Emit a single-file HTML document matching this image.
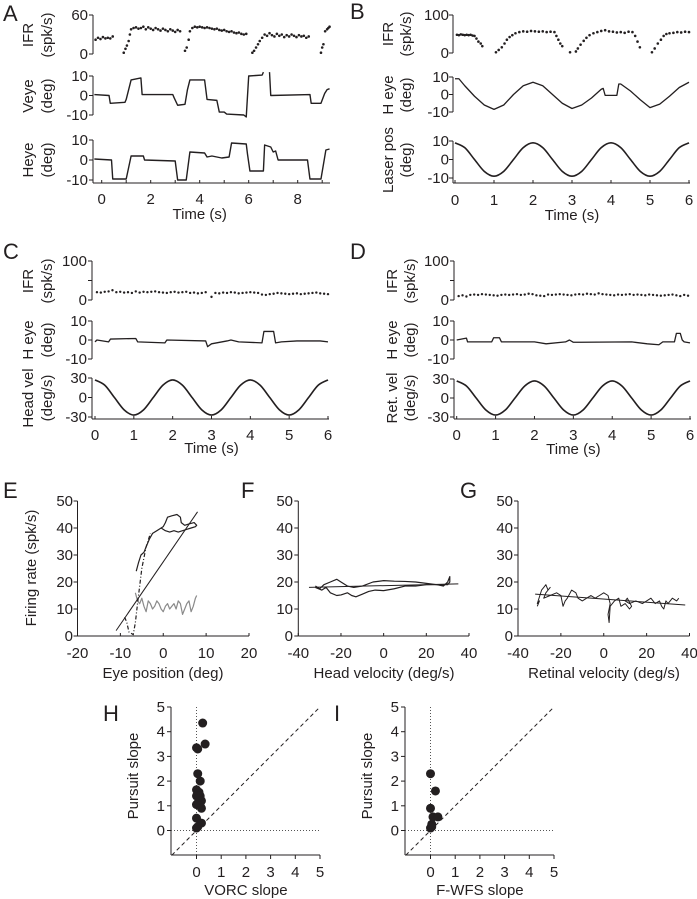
<!DOCTYPE html>
<html><head><meta charset="utf-8">
<style>
html,body{margin:0;padding:0;background:#fff;}
svg{display:block;font-family:"Liberation Sans",Arial,sans-serif;}
text{fill:#231f20;}
</style></head>
<body>
<svg id="fig" width="697" height="899" viewBox="0 0 697 899" xmlns="http://www.w3.org/2000/svg"></svg>
<script>
// ---------- DATA ----------
// Panel A
const ifrA_t = [-0.25,-0.15,-0.05,0.05,0.15,0.25,0.35,0.45, 0.9,0.97,1.03,1.1,1.15, 1.2,1.3,1.4,1.5,1.6,1.7,1.8,1.9,2.0,2.1,2.2,2.3,2.4,2.5,2.6,2.7,2.8,2.9,3.0,3.1,3.2, 3.4,3.47,3.55,3.6, 3.7,3.8,3.9,4.0,4.1,4.2,4.3,4.4,4.5,4.6,4.7,4.8,4.9,5.0,5.1,5.2,5.3,5.4,5.5,5.6,5.7,5.8,5.9, 6.15,6.22,6.3,6.38,6.45,6.55, 6.65,6.75,6.85,6.95,7.05,7.15,7.25,7.35,7.45,7.55,7.65,7.75,7.85,7.95,8.05,8.15,8.25,8.35,8.45, 8.95,9.0,9.05,9.12,9.2,9.25,9.3];
const ifrA_v = [22,25,23,26,24,25,24,27, 2,8,13,20,30, 38,40,41,39,40,42,38,41,39,37,40,38,36,39,37,35,38,36,34,37,35, 5,10,22,35, 40,42,41,42,41,40,41,40,39,38,39,37,36,37,35,34,35,33,32,33,31,30,31, 2,5,10,15,20,25, 30,28,32,29,27,31,28,30,26,29,27,30,28,26,29,27,28,25,27, 2,10,15,35,38,40,42];
const veyeA_t = [-0.3,0.3,0.35,0.95,1.0,1.2,1.6,1.65,2.9,2.95,3.1,3.4,3.5,3.6,4.2,4.3,4.7,4.8,5.0,5.1,5.8,5.9,6.0,6.55,6.6];
const veyeA_v = [0.5,0,-4,-3.5,-2,8,9,0.5,0.5,-1,-5,-4.5,3,8,8,-2,-2.5,-8.5,-8.5,-9.5,-10,-11,10,10.5,12];
const veyeA2_t = [6.85,6.9,8.5,8.55,8.95,9.1,9.2,9.3];
const veyeA2_v = [12,0,0.5,-4,-4,1,3,3.5];
const heyeA_t = [-0.3,0.4,0.45,1.0,1.2,1.7,1.75,3.0,3.1,3.45,3.6,4.2,4.3,4.5,4.9,5.2,5.3,5.9,5.95,6.05,6.6,6.65,6.9,7.0,7.1,7.2,8.4,8.5,8.95,9.15,9.3];
const heyeA_v = [0.5,0,-9.5,-9.5,2,2,0,-0.5,-10,-10,4,3.5,1.5,2,1,1.5,8.5,8,3,-5.5,-5.5,7.5,6.5,4,4.5,0,0,-9.5,-9.5,5,5.5];
// Panel B
const ifrB_t = [0.05,0.1,0.15,0.2,0.25,0.3,0.35,0.4,0.45,0.5, 0.55,0.6,0.66,0.7, 1.05,1.12,1.2,1.27,1.33,1.4,1.47, 1.55,1.65,1.75,1.85,1.95,2.05,2.15,2.25,2.35,2.45,2.55, 2.6,2.65,2.7,2.75, 2.95,3.1,3.15,3.22,3.3,3.37,3.45, 3.55,3.65,3.75,3.85,3.95,4.05,4.15,4.25,4.35,4.45,4.55, 4.62,4.68,4.74, 5.05,5.12,5.2,5.28,5.35,5.42, 5.5,5.6,5.7,5.8,5.9,6.0];
const ifrB_v = [48,47,49,48,47,48,47,48,46,45, 38,30,25,18, 2,8,15,25,35,42,47, 52,55,57,56,58,57,56,57,55,56,55, 45,35,25,18, 2,4,12,22,32,40,47, 52,55,58,60,57,56,54,55,53,56,55, 45,30,15, 2,12,25,35,45,50, 52,53,55,54,56,55];
const heyeB_t = [0,0.1,0.25,0.5,0.75,1.0,1.25,1.5,1.75,2.0,2.25,2.5,2.75,3.0,3.25,3.5,3.75,3.8,3.85,4.15,4.2,4.25,4.5,4.75,5.0,5.25,5.5,5.75,6.0];
const heyeB_v = [9,9,5,-1,-6,-8.5,-6,0,5,7,5,0,-5,-8,-6,-2,3,3.5,-0.5,-0.5,6,6,2,-3,-7.5,-5.5,-1,4,7];
const stim_t = [0,0.25,0.5,0.75,1,1.25,1.5,1.75,2,2.25,2.5,2.75,3,3.25,3.5,3.75,4,4.25,4.5,4.75,5,5.25,5.5,5.75,6];
const laserB_v = [9,6.4,0,-6.4,-9,-6.4,0,6.4,9,6.4,0,-6.4,-9,-6.4,0,6.4,9,6.4,0,-6.4,-9,-6.4,0,6.4,9];
// Panel C
const ifrC_t = [0.05,0.15,0.25,0.35,0.45,0.55,0.65,0.75,0.85,0.95,1.05,1.15,1.25,1.35,1.45,1.55,1.65,1.75,1.85,1.95,2.05,2.15,2.25,2.35,2.45,2.55,2.65,2.75,2.85, 3.0, 3.1,3.2,3.3,3.4,3.5,3.6,3.7,3.8,3.9,4.0,4.1,4.2,4.3,4.4,4.5,4.6,4.7,4.8,4.9,5.0,5.1,5.2,5.3,5.4,5.5,5.6,5.7,5.8,5.9,6.0];
const ifrC_v = [20,19,21,22,25,20,21,19,20,18,22,19,21,20,21,22,20,19,18,20,21,19,20,21,18,19,17,18,20, 8, 18,17,19,18,20,19,17,18,19,20,19,18,14,13,15,16,18,17,16,15,16,17,15,16,17,18,19,17,16,15];
const heyeC_t = [0,0.05,0.35,0.4,1.05,1.1,1.8,1.85,2.85,2.9,3.0,3.4,3.5,3.7,4.3,4.35,4.6,4.65,4.8,5.2,5.8,6.0];
const heyeC_v = [-1,0,-1,0.5,0.8,-1,-1.5,0,-0.5,-3.5,-2,-0.5,0,-1,-1.5,4.5,4.5,-1.5,-1,-0.5,-0.5,-1];
const headC_v = [27,19,0,-19,-27,-19,0,19,27,19,0,-19,-27,-19,0,19,27,19,0,-19,-27,-19,0,19,27];
// Panel D
const ifrD_t = [0.05,0.15,0.25,0.35,0.45,0.55,0.65,0.75,0.85,0.95,1.05,1.15,1.25,1.35,1.45,1.55,1.65,1.75,1.85,1.95,2.05,2.15,2.25,2.35,2.45,2.55,2.65,2.75,2.85,2.95,3.05,3.15,3.25,3.35,3.45,3.55,3.65,3.75,3.85,3.95,4.05,4.15,4.25,4.35,4.45,4.55,4.65,4.75,4.85,4.95,5.05,5.15,5.25,5.35,5.45,5.55,5.65,5.75,5.85,5.95];
const ifrD_v = [10,12,9,13,14,13,15,14,13,12, 11,13,14,13,14,15,13,14,16,15, 12,11,10,14,13,14,15,14,13,12, 14,15,14,16,15,14,17,15,14,13, 12,14,13,14,15,13,14,13,12,14, 13,12,11,12,13,14,12,10,13,11];
const heyeD_t = [0,0.25,0.28,0.9,0.95,1.1,1.15,2.0,2.3,2.8,2.9,3.0,3.2,4.5,4.9,5.2,5.3,5.6,5.65,5.75,5.8,5.85,6.0];
const heyeD_v = [0,1,-1,-1,1.2,1.2,-1,-1,-2,-1,0,-1.2,-1.2,-1,-2,-2.5,-1,-1,3.5,3.5,0,-1,-1.5];
const retD_v = [27,19,0,-19,-27,-19,0,19,27,19,0,-19,-27,-19,0,19,27,19,0,-19,-27,-19,0,19,27];
// Panel E
const eBlack_x = [-6.3,-5.8,-5.2,-4.5,-4,-3.2,-2.5,-1.5,-0.5,0.5,1.5,2.5,3.5,4.5,5.5,6.5,7.5,7.8,7.2,6,5,4.2,4,3.2,2,1,0.5,0,-1,-2.5];
const eBlack_y = [24,27,30,31,33,36,38,39,40,39,38.5,39,38.5,39,39.5,40,40.5,41,42,41.5,41,42,44,45,44.5,44,42,40.5,39.5,38];
const eDash_x = [-9,-8.5,-8,-7.5,-7,-6.5,-6,-5,-4,-3];
const eDash_y = [7,5,1.5,1,0.5,5,12,25,33,38];
const eGray_x = [-6.5,-6,-5.5,-5,-4.5,-4,-3.5,-3,-2.5,-2,-1.5,-1,-0.5,0,0.5,1,1.5,2,2.5,3,3.5,4,4.5,5,5.5,6,6.5,7,7.5,7.8];
const eGray_y = [16,13,12,14,11,9,13,12,10,11,13,12,10,9,11,12,10,11,12,10,13,12,8,10,12,13,9,11,14,15];
const eFit_x = [-11,8];
const eFit_y = [2,46];
// Panel F
const fUp_x = [-32,-30,-28,-25,-22,-20,-17,-14,-10,-5,0,5,10,15,20,25,28,30,31,31,30,28];
const fUp_y = [18.5,17.5,19,20,21,20,18.5,18,18.5,20,20.5,20.3,20.2,20,19.5,19,18.5,20,22,20,19,19];
const fLo_x = [-32,-29,-27,-25,-22,-20,-17,-15,-13,-10,-7,-4,0,5,10,15,20,25,28,30];
const fLo_y = [18,17,18,16,15,15.2,16,15,14.5,15.5,16.5,17,16.8,17.5,18.5,18.5,19,19,18.8,19.5];
const fFit_x = [-35,35];
const fFit_y = [18,19.3];
// Panel G
const gTr_x = [-31,-30,-31,-29,-28,-27,-26,-25,-27,-28,-25,-22,-20,-19,-18,-17,-15,-13,-12,-10,-8,-6,-4,-2,0,2,3,2,2.5,3,5,7,8,10,12,13,11,10,12,15,18,20,22,24,26,27,28,29,30,32,34,35];
const gTr_y = [11,13,12,17,18,19,17,18,16,14,15,16,15,11,13,14,17,16,14,13,14,15,14,15,16,15,12,8,5,11,13,14,11,12,10,11,14,13,12,13,12,13,14,12,13,11,10,13,12,14,13,14];
const gFit_x = [-32,38];
const gFit_y = [15.5,11.5];
// Panels H, I
const hVorc = [0.25,0.35,0,0.05,0.05,0.15,0,0.1,0.05,0,0.15,0.1,0.2,0.05,0,0.15,0.2,0,0.2,0,0.05];
const hPursuit = [4.35,3.5,3.35,3.3,2.3,2.0,1.65,1.55,1.5,1.4,1.4,1.3,1.2,1.1,1.05,1.0,0.9,0.5,0.3,0.1,0.15];
const iFwfs = [0,0.2,0,0.1,0.3,0.05,0,0.05];
const iPursuit = [2.3,1.6,0.9,0.55,0.55,0.25,0.1,0.15];
const slopeTicks = [0,1,2,3,4,5];

// ---------- DRAWING ----------
const NS = 'http://www.w3.org/2000/svg';
const svg = document.getElementById('fig');
const INK = '#231f20';
function mk(tag, attrs, parent) {
  const e = document.createElementNS(NS, tag);
  for (const k in attrs) e.setAttribute(k, attrs[k]);
  (parent || svg).appendChild(e);
  return e;
}
function scale(d0, d1, r0, r1) { return v => r0 + (v - d0) * (r1 - r0) / (d1 - d0); }
function txt(x, y, s, size, anchor, name, rot) {
  const t = mk('text', {x: x, y: y, 'font-size': size, 'text-anchor': anchor || 'middle'});
  if (rot) t.setAttribute('transform', 'rotate(-90 ' + x + ' ' + y + ')');
  t.textContent = s;
  
  
  return t;
}
function path(xs, ys, sx, sy, stroke, width, name, dash) {
  let d = '';
  for (let i = 0; i < xs.length; i++) d += (i ? 'L' : 'M') + sx(xs[i]).toFixed(2) + ' ' + sy(ys[i]).toFixed(2);
  const p = mk('path', {d: d, fill: 'none', stroke: stroke, 'stroke-width': width, 'stroke-linejoin': 'round'});
  if (dash) p.setAttribute('stroke-dasharray', dash);
  
  
  return p;
}
function smooth(xs, ys, sx, sy, name) {
  const P = xs.map((x, i) => [sx(x), sy(ys[i])]);
  let d = 'M' + P[0][0] + ' ' + P[0][1];
  for (let i = 0; i < P.length - 1; i++) {
    const p0 = P[Math.max(0, i - 1)], p1 = P[i], p2 = P[i + 1], p3 = P[Math.min(P.length - 1, i + 2)];
    const c1 = [p1[0] + (p2[0] - p0[0]) / 6, p1[1] + (p2[1] - p0[1]) / 6];
    const c2 = [p2[0] - (p3[0] - p1[0]) / 6, p2[1] - (p3[1] - p1[1]) / 6];
    d += 'C' + c1[0] + ' ' + c1[1] + ' ' + c2[0] + ' ' + c2[1] + ' ' + p2[0] + ' ' + p2[1];
  }
  const p = mk('path', {d: d, fill: 'none', stroke: INK, 'stroke-width': 1.6});
  
  
}
function dots(xs, ys, sx, sy, r, name) {
  const g = mk('g', {fill: INK});
  
  
  for (let i = 0; i < xs.length; i++) {
    const c = mk('circle', {cx: sx(xs[i]), cy: sy(ys[i]), r: r}, g);
    
    
  }
}
function yAxis(x, top, bot, sy, ticks, labels, labX, name) {
  const l = mk('line', {x1: x, y1: top, x2: x, y2: bot, stroke: INK, 'stroke-width': 1});
  
  
  ticks.forEach((v, i) => {
    const t = mk('line', {x1: x - 4, y1: sy(v), x2: x, y2: sy(v), stroke: INK, 'stroke-width': 1});
    
    
    if (labels[i] !== '') txt(labX, sy(v) + 5, labels[i], 15, 'end', name + '-tick-label');
  });
}
function xAxis(y, left, right, sx, ticks, labels, labY, name, up) {
  const l = mk('line', {x1: left, y1: y, x2: right, y2: y, stroke: INK, 'stroke-width': 1});
  
  
  ticks.forEach((v, i) => {
    const t = mk('line', {x1: sx(v), y1: y, x2: sx(v), y2: up ? y - 3 : y + 4, stroke: INK, 'stroke-width': 1});
    
    
    if (labels[i] !== '') txt(sx(v), labY, labels[i], 15, 'middle', name + '-tick-label');
  });
}
function ylab2(x1, x2, yc, a, b, name) {
  txt(x1, yc, a, 15, 'middle', name, true);
  txt(x2, yc, b, 15, 'middle', name + '-unit', true);
}

// Panel letters
[['A',3,21],['B',350,19],['C',3,259],['D',350,259],['E',3,498],['F',241,498],['G',460,498],['H',103,721],['I',334,721]].forEach(L => {
  txt(L[1], L[2], L[0], 22, 'start', 'panel-label-' + L[0].toLowerCase());
});

// ---- Panel A ----
{
  const sx = scale(0, 8, 101.7, 297.7);
  const sI = scale(0, 60, 54, 15), sV = scale(-10, 10, 115, 76), sH = scale(-10, 10, 180, 140);
  yAxis(93, 15, 54, sI, [0, 60], ['0', '60'], 88, 'a-ifr');
  yAxis(93, 76, 115, sV, [-10, 0, 10], ['-10', '0', '10'], 88, 'a-veye');
  yAxis(93, 140, 183, sH, [-10, 0, 10], ['-10', '0', '10'], 88, 'a-heye');
  xAxis(183, 93, 330, sx, [0,1,2,3,4,5,6,7,8,9], ['0','','2','','4','','6','','8',''], 204, 'a-time', true);
  txt(sx(4), 219, 'Time (s)', 15, 'middle', 'a-x-title');
  ylab2(33, 52, 35, 'IFR', '(spk/s)', 'a-ifr-title');
  ylab2(33, 52, 96, 'Veye', '(deg)', 'a-veye-title');
  ylab2(33, 52, 160, 'Heye', '(deg)', 'a-heye-title');
  dots(ifrA_t, ifrA_v, sx, sI, 1.3, 'a-ifr-dots');
  path(veyeA_t, veyeA_v, sx, sV, INK, 1.4, 'a-veye-trace');
  path(veyeA2_t, veyeA2_v, sx, sV, INK, 1.4, 'a-veye-trace-2');
  path(heyeA_t, heyeA_v, sx, sH, INK, 1.4, 'a-heye-trace');
}
// ---- Panel B ----
{
  const sx = scale(0, 6, 455, 689);
  const sI = scale(0, 100, 53, 15), sV = scale(-10, 10, 112, 77), sL = scale(-10, 10, 178, 141);
  yAxis(453, 15, 53, sI, [0, 100], ['0', '100'], 449, 'b-ifr');
  yAxis(453, 77, 112, sV, [-10, 0, 10], ['-10', '0', '10'], 449, 'b-heye');
  yAxis(453, 141, 183, sL, [-10, 0, 10], ['-10', '0', '10'], 449, 'b-laser');
  xAxis(183, 453, 690, sx, [0,1,2,3,4,5,6], ['0','1','2','3','4','5','6'], 205, 'b-time', true);
  txt(sx(3), 220, 'Time (s)', 15, 'middle', 'b-x-title');
  ylab2(393, 411, 34, 'IFR', '(spk/s)', 'b-ifr-title');
  ylab2(393, 411, 95, 'H eye', '(deg)', 'b-heye-title');
  ylab2(393, 411, 160, 'Laser pos', '(deg)', 'b-laser-title');
  dots(ifrB_t, ifrB_v, sx, sI, 1.3, 'b-ifr-dots');
  path(heyeB_t, heyeB_v, sx, sV, INK, 1.3, 'b-heye-trace');
  smooth(stim_t, laserB_v, sx, sL, 'b-laser-trace');
}
// ---- Panel C ----
{
  const sx = scale(0, 6, 95, 328);
  const sI = scale(0, 100, 300, 261), sV = scale(-10, 10, 359, 321), sS = scale(-30, 30, 417, 378);
  yAxis(92, 261, 300, sI, [0, 50, 100], ['0', '', '100'], 87, 'c-ifr');
  yAxis(92, 321, 359, sV, [-10, 0, 10], ['-10', '0', '10'], 87, 'c-heye');
  yAxis(92, 378, 419, sS, [-30, 0, 30], ['-30', '0', '30'], 87, 'c-headvel');
  xAxis(419, 92, 329, sx, [0,1,2,3,4,5,6], ['0','1','2','3','4','5','6'], 440, 'c-time', true);
  txt(sx(3), 453, 'Time (s)', 15, 'middle', 'c-x-title');
  ylab2(33, 52, 281, 'IFR', '(spk/s)', 'c-ifr-title');
  ylab2(33, 52, 340, 'H eye', '(deg)', 'c-heye-title');
  ylab2(33, 52, 398, 'Head vel', '(deg/s)', 'c-headvel-title');
  dots(ifrC_t, ifrC_v, sx, sI, 1.2, 'c-ifr-dots');
  path(heyeC_t, heyeC_v, sx, sV, INK, 1.3, 'c-heye-trace');
  smooth(stim_t, headC_v, sx, sS, 'c-headvel-trace');
}
// ---- Panel D ----
{
  const sx = scale(0, 6, 456.7, 690);
  const sI = scale(0, 100, 300, 261), sV = scale(-10, 10, 359, 321), sS = scale(-30, 30, 417, 379);
  yAxis(454, 261, 300, sI, [0, 50, 100], ['0', '', '100'], 449, 'd-ifr');
  yAxis(454, 321, 359, sV, [-10, 0, 10], ['-10', '0', '10'], 449, 'd-heye');
  yAxis(454, 379, 419, sS, [-30, 0, 30], ['-30', '0', '30'], 449, 'd-retvel');
  xAxis(419, 454, 691, sx, [0,1,2,3,4,5,6], ['0','1','2','3','4','5','6'], 440, 'd-time', true);
  txt(sx(3), 454, 'Time (s)', 15, 'middle', 'd-x-title');
  ylab2(397, 415, 281, 'IFR', '(spk/s)', 'd-ifr-title');
  ylab2(397, 415, 340, 'H eye', '(deg)', 'd-heye-title');
  ylab2(397, 415, 398, 'Ret. vel', '(deg/s)', 'd-retvel-title');
  dots(ifrD_t, ifrD_v, sx, sI, 1.2, 'd-ifr-dots');
  path(heyeD_t, heyeD_v, sx, sV, INK, 1.3, 'd-heye-trace');
  smooth(stim_t, retD_v, sx, sS, 'd-retvel-trace');
}
// ---- Panels E, F, G ----
const rateTicks = [0,10,20,30,40,50];
const rateLabels = ['0','10','20','30','40','50'];
{
  const sx = scale(-20, 20, 77.5, 249), sy = scale(0, 50, 636, 501);
  yAxis(77.5, 501, 636, sy, rateTicks, rateLabels, 73, 'e-y');
  xAxis(636, 77.5, 249, sx, [-20,-10,0,10,20], ['-20','-10','0','10','20'], 658, 'e-x', true);
  txt(163, 678, 'Eye position (deg)', 15, 'middle', 'e-x-title');
  txt(36, 568, 'Firing rate (spk/s)', 15, 'middle', 'e-y-title', true);
  path(eGray_x, eGray_y, sx, sy, '#8a8a8a', 1.2, 'e-gray-trace');
  path(eDash_x, eDash_y, sx, sy, INK, 1.2, 'e-rise-trace', '4 2 1 2');
  path(eBlack_x, eBlack_y, sx, sy, INK, 1.2, 'e-black-trace');
  path(eFit_x, eFit_y, sx, sy, INK, 1, 'e-fit-line');
}
{
  const sx = scale(-40, 40, 298.3, 469), sy = scale(0, 50, 636, 501);
  yAxis(298.3, 501, 636, sy, rateTicks, rateLabels, 293, 'f-y');
  xAxis(636, 298.3, 469, sx, [-40,-20,0,20,40], ['-40','-20','0','20','40'], 658, 'f-x', true);
  txt(384, 678, 'Head velocity (deg/s)', 15, 'middle', 'f-x-title');
  path(fUp_x, fUp_y, sx, sy, INK, 1.2, 'f-upper-trace');
  path(fLo_x, fLo_y, sx, sy, INK, 1.2, 'f-lower-trace');
  path(fFit_x, fFit_y, sx, sy, INK, 1, 'f-fit-line');
}
{
  const sx = scale(-40, 40, 518, 689.5), sy = scale(0, 50, 636, 501);
  yAxis(518, 501, 636, sy, rateTicks, rateLabels, 513, 'g-y');
  xAxis(636, 518, 689.5, sx, [-40,-20,0,20,40], ['-40','-20','0','20','40'], 658, 'g-x', true);
  txt(604, 678, 'Retinal velocity (deg/s)', 15, 'middle', 'g-x-title');
  path(gTr_x, gTr_y, sx, sy, INK, 1, 'g-trace');
  path(gFit_x, gFit_y, sx, sy, INK, 1, 'g-fit-line');
}
// ---- Panels H, I ----
function slopePanel(x0, xs, ys, xTitle, p) {
  const sx = scale(0, 5, x0 + 25.5, x0 + 149), sy = scale(0, 5, 830.5, 707);
  yAxis(x0, sy(5), 855, sy, slopeTicks, slopeTicks.map(String), x0 - 6, p + '-y');
  xAxis(855, x0, sx(5), sx, slopeTicks, slopeTicks.map(String), 877, p + '-x', false);
  const diag = mk('line', {x1: sx(-1), y1: sy(-1), x2: sx(5), y2: sy(5), stroke: INK, 'stroke-width': 1, 'stroke-dasharray': '4 3'});
  
  
  const vz = mk('line', {x1: sx(0), y1: sy(5), x2: sx(0), y2: 855, stroke: '#555', 'stroke-width': 1, 'stroke-dasharray': '1 2'});
  
  
  const hz = mk('line', {x1: x0, y1: sy(0), x2: sx(5), y2: sy(0), stroke: '#555', 'stroke-width': 1, 'stroke-dasharray': '1 2'});
  
  
  dots(xs, ys, sx, sy, 4.5, p + '-neurons');
  txt(sx(2), 895, xTitle, 15, 'middle', p + '-x-title');
  txt(x0 - 33, 776, 'Pursuit slope', 15, 'middle', p + '-y-title', true);
}
slopePanel(171, hVorc, hPursuit, 'VORC slope', 'h');
slopePanel(405, iFwfs, iPursuit, 'F-WFS slope', 'i');
</script>
</body></html>
